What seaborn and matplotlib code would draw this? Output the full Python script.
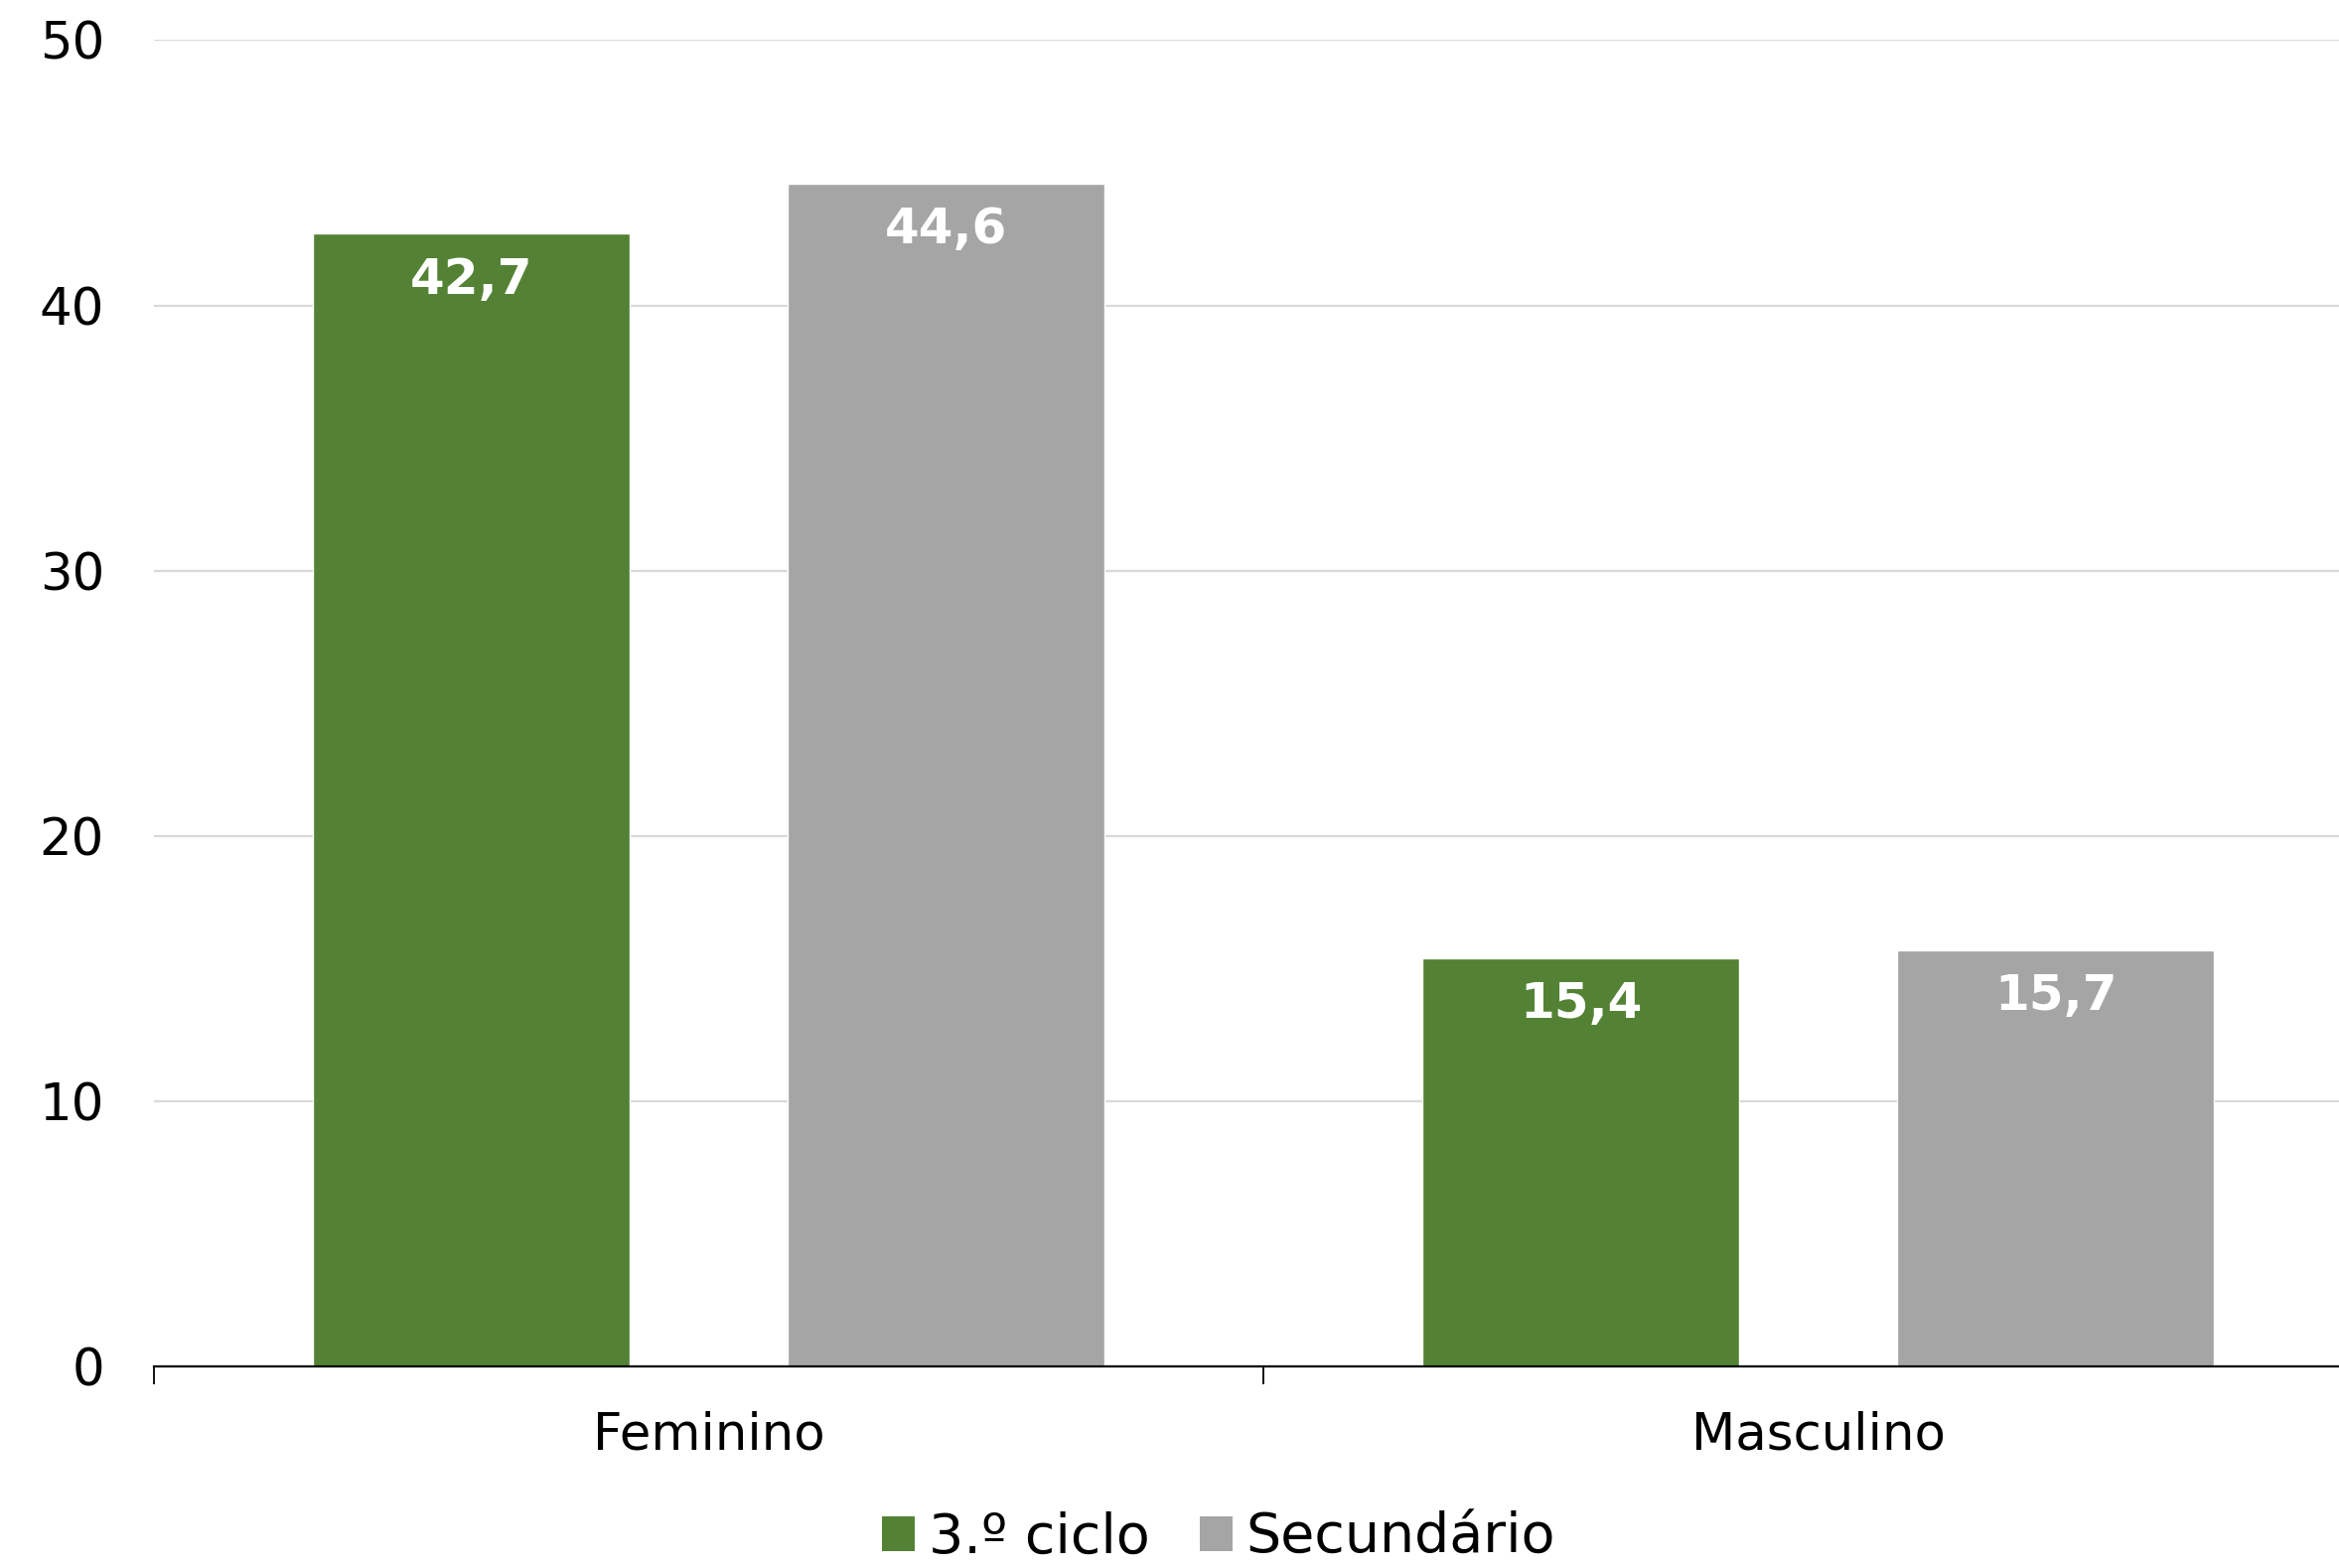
import matplotlib
matplotlib.use("Agg")
import matplotlib.pyplot as plt
import seaborn as sns
import pandas as pd
from matplotlib.patches import Patch

# Data
sexos = ["Feminino", "Masculino"]
ciclos = ["3.º ciclo", "Secundário"]
valores_3ciclo = [42.7, 15.4]
valores_secundario = [44.6, 15.7]
cores = ["#548235", "#A5A5A5"]
yticks = [0, 10, 20, 30, 40, 50]

df = pd.DataFrame({
    "sexo": sexos * 2,
    "ciclo": [ciclos[0]] * 2 + [ciclos[1]] * 2,
    "valor": valores_3ciclo + valores_secundario,
})

sns.set_theme(style="white")
plt.rcParams["font.family"] = ["DejaVu Sans"]
plt.rcParams["text.color"] = "#000000"

fig = plt.figure(figsize=(23.55, 15.79), dpi=100)
ax = fig.add_axes([0.0658, 0.1286, 0.9487, 0.8458])

sns.barplot(data=df, x="sexo", y="valor", hue="ciclo", order=sexos,
            hue_order=ciclos, palette=cores, width=0.856, gap=1/3,
            saturation=1, legend=False, ax=ax, zorder=3)

ax.set_xlim(-0.5, 1.5)
ax.set_ylim(0, 50)
ax.set_yticks(yticks)
ax.set_yticklabels([str(v) for v in yticks])
ax.set_xlabel("")
ax.set_ylabel("")

# category boundary ticks on the x axis
ax.set_xticks([0, 1])
ax.set_xticklabels(sexos)
ax.set_xticks([-0.5, 0.5, 1.5], minor=True)
ax.tick_params(axis="x", which="major", length=0, pad=32, labelsize=37,
               labelcolor="#000000")
ax.tick_params(axis="x", which="minor", length=13, width=1.3,
               color="#000000", bottom=True)
ax.tick_params(axis="y", length=0, pad=36, labelsize=37, labelcolor="#000000")

ax.grid(axis="y", color="#D9D9D9", linewidth=1.6, zorder=0)
ax.set_axisbelow(True)
for s in ["top", "right", "left"]:
    ax.spines[s].set_visible(False)
ax.spines["bottom"].set_color("#000000")
ax.spines["bottom"].set_linewidth(1.6)
ax.spines["bottom"].set_zorder(4)

# value labels inside the top of each bar
for cont in ax.containers:
    for bar in cont:
        h = bar.get_height()
        ax.annotate(f"{h:.1f}".replace(".", ","),
                    (bar.get_x() + bar.get_width() / 2, h),
                    xytext=(0, -16), textcoords="offset points",
                    ha="center", va="top", color="white",
                    fontsize=36, fontweight="bold", zorder=5)

handles = [Patch(facecolor=c, edgecolor="none") for c in cores]
leg = fig.legend(handles, ciclos, loc="lower center", ncol=2,
                 bbox_to_anchor=(0.521, -0.012), frameon=False, fontsize=40,
                 handlelength=0.6, handleheight=0.6, handletextpad=0.25,
                 columnspacing=0.9, borderaxespad=0.0)
for t in leg.get_texts():
    t.set_color("#000000")

fig.savefig("out.png", dpi=100, facecolor="white")
